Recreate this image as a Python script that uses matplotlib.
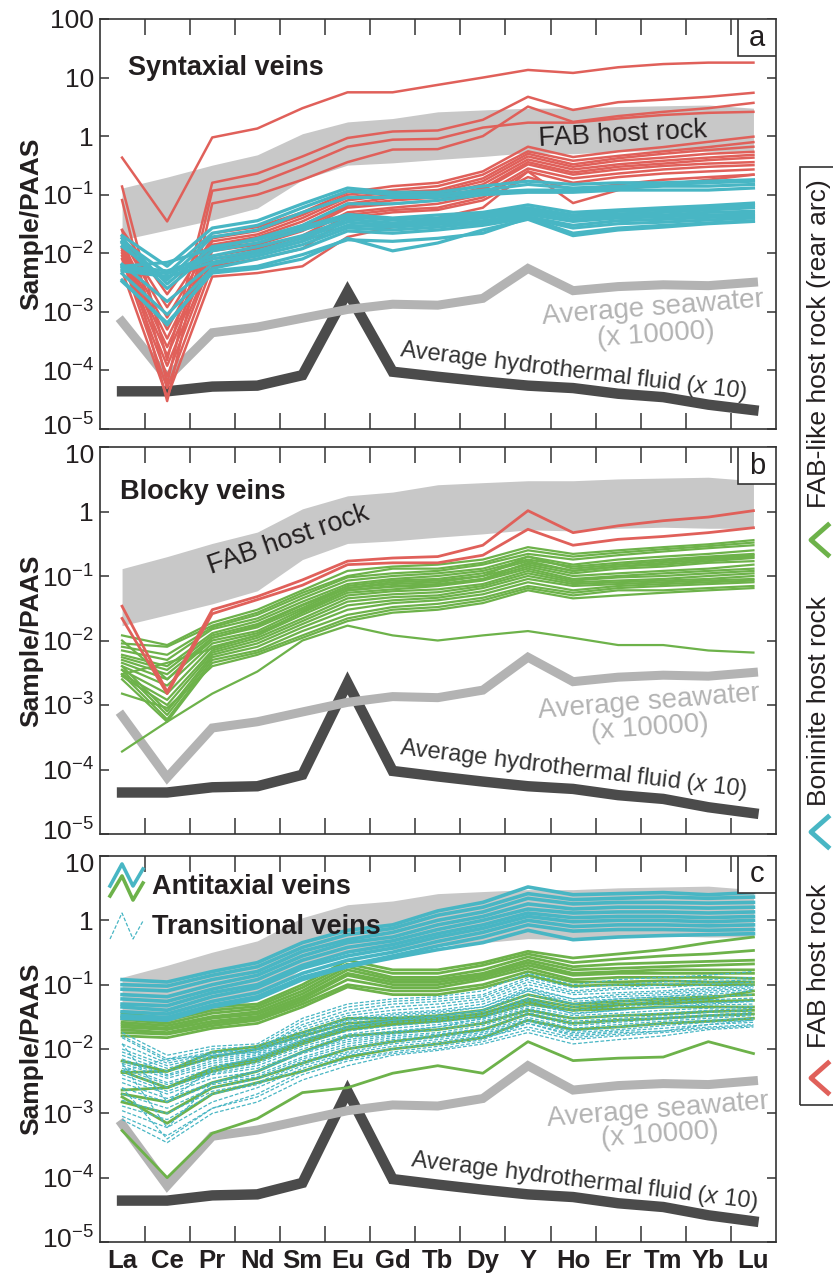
import numpy as np
import matplotlib
matplotlib.use("Agg")
import matplotlib.pyplot as plt
from matplotlib.ticker import FixedLocator, FuncFormatter
from matplotlib.lines import Line2D
from matplotlib.patches import Rectangle
from matplotlib.transforms import ScaledTranslation

plt.rcParams['font.family'] = ['Liberation Sans', 'DejaVu Sans']
plt.rcParams['mathtext.fontset'] = 'custom'
plt.rcParams['mathtext.rm'] = 'Liberation Sans'
plt.rcParams['mathtext.it'] = 'Liberation Sans:italic'
plt.rcParams['mathtext.bf'] = 'Liberation Sans:bold'

RED = "#e0605a"
CYAN = "#48b6c4"
GREEN = "#6db24a"
BAND = "#c8c8c8"
SEA = "#b3b3b3"
HYDRO = "#4b4b4b"
DARK = "#231f20"

elements = ["La", "Ce", "Pr", "Nd", "Sm", "Eu", "Gd", "Tb", "Dy", "Y", "Ho", "Er", "Tm", "Yb", "Lu"]

# FAB host rock range (grey band)
fab_upper = [0.13, 0.2, 0.32, 0.48, 1.1, 1.75, 2.0, 2.6, 2.8, 3.0, 3.0, 3.2, 3.3, 3.4, 3.0]
fab_lower = [0.017, 0.025, 0.037, 0.059, 0.18, 0.32, 0.35, 0.4, 0.45, 0.52, 0.5, 0.55, 0.57, 0.55, 0.55]

seawater = [6.8e-4, 7.5e-5, 4.4e-4, 5.5e-4, 7.8e-4, 1.1e-3, 1.35e-3, 1.3e-3, 1.7e-3, 5.5e-3,
            2.3e-3, 2.7e-3, 2.9e-3, 2.8e-3, 3.2e-3]
hydrothermal = [4.4e-5, 4.4e-5, 5.3e-5, 5.5e-5, 8.3e-5, 2.2e-3, 9.5e-5, 7.8e-5, 6.5e-5, 5.5e-5,
                5.0e-5, 4.0e-5, 3.5e-5, 2.6e-5, 2.1e-5]

# (a) syntaxial veins
syn_fab = [
    [0.43, 0.035, 0.95, 1.35, 3.0, 5.6, 5.6, 7.5, 10, 13.5, 12, 15, 17, 18, 18],
    [0.138, 1.5e-4, 0.16, 0.23, 0.45, 0.93, 1.2, 1.25, 1.9, 4.7, 2.8, 3.8, 4.2, 4.7, 5.5],
    [0.081, 6e-5, 0.117, 0.155, 0.31, 0.66, 0.87, 0.9, 1.4, 1.7, 1.7, 2.0, 2.3, 2.5, 2.6],
    [0.025, 3e-5, 0.071, 0.1, 0.18, 0.36, 0.59, 0.6, 1.0, 3.2, 1.75, 2.2, 2.6, 3.0, 3.7],
    [0.025, 2e-3, 0.022, 0.028, 0.05, 0.11, 0.14, 0.16, 0.25, 0.66, 0.44, 0.55, 0.65, 0.8, 0.98],
    [0.02, 1.2e-3, 0.018, 0.024, 0.045, 0.10, 0.12, 0.14, 0.22, 0.55, 0.38, 0.46, 0.55, 0.65, 0.79],
    [0.018, 8e-4, 0.016, 0.021, 0.04, 0.09, 0.11, 0.12, 0.19, 0.5, 0.33, 0.42, 0.5, 0.58, 0.66],
    [0.015, 5e-4, 0.014, 0.019, 0.035, 0.08, 0.1, 0.11, 0.17, 0.45, 0.3, 0.38, 0.43, 0.5, 0.54],
    [0.013, 3.5e-4, 0.013, 0.017, 0.03, 0.07, 0.09, 0.1, 0.15, 0.4, 0.27, 0.33, 0.38, 0.43, 0.48],
    [0.012, 2.5e-4, 0.012, 0.015, 0.027, 0.065, 0.08, 0.09, 0.13, 0.36, 0.24, 0.3, 0.34, 0.39, 0.43],
    [0.011, 1.8e-4, 0.011, 0.014, 0.024, 0.06, 0.07, 0.08, 0.12, 0.33, 0.22, 0.27, 0.31, 0.34, 0.36],
    [0.01, 1.2e-4, 0.009, 0.012, 0.02, 0.05, 0.06, 0.07, 0.1, 0.28, 0.19, 0.23, 0.27, 0.3, 0.32],
    [0.009, 8e-5, 0.008, 0.01, 0.016, 0.045, 0.055, 0.06, 0.09, 0.25, 0.16, 0.2, 0.23, 0.25, 0.27],
    [0.008, 5e-5, 0.006, 0.008, 0.012, 0.04, 0.05, 0.055, 0.08, 0.2, 0.12, 0.15, 0.18, 0.2, 0.22],
    [0.005, 3.5e-5, 0.004, 0.0046, 0.006, 0.019, 0.028, 0.04, 0.06, 0.25, 0.072, 0.12, 0.15, 0.18, 0.22],
]
syn_bon = [
    [0.02, 0.006, 0.027, 0.036, 0.07, 0.13, 0.11, 0.11, 0.14, 0.17, 0.15, 0.16, 0.16, 0.17, 0.18],
    [0.016, 0.0045, 0.022, 0.03, 0.06, 0.115, 0.1, 0.1, 0.12, 0.15, 0.13, 0.14, 0.15, 0.16, 0.17],
    [0.013, 0.0035, 0.019, 0.025, 0.05, 0.09, 0.09, 0.09, 0.11, 0.12, 0.12, 0.13, 0.14, 0.14, 0.15],
    [0.006, 0.007, 0.012, 0.018, 0.03, 0.07, 0.07, 0.08, 0.1, 0.11, 0.11, 0.12, 0.12, 0.12, 0.13],
    [0.018, 0.003, 0.013, 0.017, 0.028, 0.046, 0.04, 0.045, 0.05, 0.067, 0.05, 0.055, 0.06, 0.065, 0.072],
    [0.015, 0.0025, 0.011, 0.015, 0.025, 0.042, 0.037, 0.04, 0.047, 0.06, 0.045, 0.052, 0.055, 0.06, 0.066],
    [0.006, 0.005, 0.009, 0.013, 0.02, 0.038, 0.033, 0.037, 0.043, 0.055, 0.042, 0.047, 0.05, 0.055, 0.06],
    [0.0055, 0.0045, 0.008, 0.011, 0.018, 0.034, 0.03, 0.034, 0.04, 0.05, 0.038, 0.043, 0.045, 0.05, 0.052],
    [0.005, 0.004, 0.007, 0.01, 0.016, 0.03, 0.028, 0.031, 0.036, 0.046, 0.035, 0.04, 0.042, 0.045, 0.047],
    [0.0065, 0.0015, 0.0065, 0.009, 0.014, 0.027, 0.025, 0.028, 0.033, 0.042, 0.03, 0.036, 0.038, 0.041, 0.043],
    [0.0045, 0.0009, 0.0055, 0.008, 0.012, 0.024, 0.022, 0.025, 0.03, 0.04, 0.027, 0.032, 0.034, 0.037, 0.04],
    [0.0033, 0.00065, 0.0046, 0.0055, 0.008, 0.018, 0.011, 0.015, 0.025, 0.038, 0.02, 0.025, 0.028, 0.032, 0.035],
    [0.0035, 0.0006, 0.005, 0.006, 0.0095, 0.017, 0.016, 0.018, 0.022, 0.04, 0.022, 0.027, 0.03, 0.033, 0.036],
]

# (b) blocky veins
blk_fab = [
    [0.034, 0.0016, 0.03, 0.048, 0.087, 0.17, 0.19, 0.2, 0.3, 1.03, 0.47, 0.6, 0.72, 0.82, 1.03],
    [0.022, 0.0015, 0.026, 0.043, 0.072, 0.15, 0.16, 0.16, 0.21, 0.53, 0.3, 0.37, 0.41, 0.47, 0.56],
]
blk_fablike = [
    [0.012, 0.0085, 0.019, 0.03, 0.06, 0.12, 0.14, 0.15, 0.18, 0.28, 0.22, 0.25, 0.28, 0.31, 0.36],
    [0.009, 0.008, 0.017, 0.027, 0.055, 0.1, 0.13, 0.13, 0.16, 0.25, 0.2, 0.23, 0.26, 0.29, 0.33],
    [0.008, 0.006, 0.016, 0.025, 0.05, 0.095, 0.11, 0.12, 0.15, 0.22, 0.18, 0.21, 0.24, 0.27, 0.3],
    [0.007, 0.005, 0.015, 0.022, 0.045, 0.085, 0.1, 0.11, 0.13, 0.2, 0.15, 0.18, 0.2, 0.22, 0.25],
    [0.006, 0.004, 0.013, 0.02, 0.04, 0.075, 0.09, 0.1, 0.12, 0.18, 0.14, 0.16, 0.18, 0.2, 0.22],
    [0.0055, 0.0035, 0.012, 0.018, 0.036, 0.07, 0.085, 0.09, 0.11, 0.17, 0.12, 0.14, 0.16, 0.18, 0.2],
    [0.005, 0.003, 0.011, 0.016, 0.032, 0.065, 0.075, 0.08, 0.1, 0.15, 0.11, 0.13, 0.14, 0.16, 0.17],
    [0.0045, 0.0025, 0.01, 0.014, 0.03, 0.06, 0.07, 0.075, 0.09, 0.14, 0.1, 0.11, 0.12, 0.13, 0.15],
    [0.004, 0.002, 0.009, 0.013, 0.027, 0.055, 0.062, 0.07, 0.085, 0.13, 0.09, 0.1, 0.11, 0.12, 0.13],
    [0.0035, 0.0015, 0.008, 0.012, 0.025, 0.05, 0.058, 0.062, 0.075, 0.12, 0.085, 0.095, 0.1, 0.11, 0.12],
    [0.003, 0.0012, 0.007, 0.011, 0.022, 0.045, 0.052, 0.056, 0.07, 0.11, 0.08, 0.085, 0.09, 0.1, 0.11],
    [0.0028, 0.001, 0.0065, 0.01, 0.02, 0.04, 0.047, 0.05, 0.065, 0.1, 0.075, 0.08, 0.085, 0.09, 0.1],
    [0.004, 0.0008, 0.006, 0.009, 0.018, 0.035, 0.042, 0.046, 0.058, 0.09, 0.07, 0.075, 0.08, 0.085, 0.09],
    [0.0035, 0.0007, 0.0055, 0.008, 0.016, 0.03, 0.038, 0.042, 0.052, 0.08, 0.06, 0.07, 0.075, 0.08, 0.085],
    [0.003, 0.0006, 0.005, 0.007, 0.014, 0.025, 0.033, 0.037, 0.046, 0.07, 0.055, 0.065, 0.07, 0.075, 0.08],
    [0.0025, 0.00055, 0.0045, 0.0065, 0.012, 0.022, 0.03, 0.033, 0.042, 0.065, 0.05, 0.06, 0.06, 0.065, 0.07],
    [0.0015, 0.0009, 0.004, 0.006, 0.011, 0.02, 0.027, 0.03, 0.038, 0.06, 0.045, 0.05, 0.055, 0.06, 0.065],
    [1.9e-4, 5.5e-4, 0.0015, 0.0033, 0.01, 0.017, 0.012, 0.01, 0.012, 0.014, 0.011, 0.0085, 0.0085, 0.007, 0.0065],
    [0.003, 0.0045, 0.0075, 0.012, 0.028, 0.06, 0.068, 0.072, 0.09, 0.16, 0.12, 0.14, 0.15, 0.17, 0.19],
    [0.01, 0.0025, 0.011, 0.017, 0.035, 0.065, 0.08, 0.085, 0.1, 0.2, 0.13, 0.15, 0.17, 0.19, 0.21],
]

# (c) antitaxial and transitional veins
anti_bon = [
    [0.12, 0.11, 0.16, 0.22, 0.45, 0.7, 0.85, 1.4, 1.9, 3.3, 2.5, 2.6, 2.7, 2.5, 2.7],
    [0.1, 0.095, 0.14, 0.19, 0.38, 0.6, 0.75, 1.2, 1.6, 2.6, 2.1, 2.2, 2.3, 2.2, 2.3],
    [0.085, 0.08, 0.12, 0.16, 0.33, 0.5, 0.65, 1.0, 1.35, 2.2, 1.8, 1.9, 1.9, 1.85, 1.9],
    [0.07, 0.065, 0.1, 0.14, 0.28, 0.45, 0.55, 0.85, 1.15, 1.8, 1.5, 1.6, 1.6, 1.55, 1.6],
    [0.06, 0.055, 0.085, 0.12, 0.24, 0.38, 0.48, 0.72, 1.0, 1.5, 1.3, 1.35, 1.35, 1.3, 1.35],
    [0.05, 0.047, 0.075, 0.1, 0.2, 0.32, 0.42, 0.62, 0.85, 1.3, 1.1, 1.15, 1.15, 1.1, 1.15],
    [0.045, 0.04, 0.065, 0.09, 0.18, 0.28, 0.37, 0.55, 0.75, 1.15, 0.95, 1.0, 1.0, 0.95, 1.0],
    [0.038, 0.035, 0.055, 0.075, 0.15, 0.24, 0.32, 0.47, 0.65, 1.0, 0.8, 0.85, 0.85, 0.82, 0.85],
    [0.033, 0.031, 0.048, 0.065, 0.13, 0.2, 0.28, 0.4, 0.55, 0.85, 0.68, 0.72, 0.72, 0.7, 0.72],
    [0.03, 0.028, 0.045, 0.06, 0.12, 0.19, 0.26, 0.35, 0.45, 0.7, 0.5, 0.55, 0.58, 0.6, 0.62],
]
anti_fablike = [
    [0.036, 0.03, 0.045, 0.05, 0.1, 0.24, 0.17, 0.17, 0.22, 0.33, 0.26, 0.3, 0.35, 0.45, 0.55],
    [0.032, 0.028, 0.04, 0.046, 0.09, 0.21, 0.15, 0.15, 0.2, 0.3, 0.22, 0.25, 0.28, 0.3, 0.34],
    [0.029, 0.025, 0.036, 0.042, 0.08, 0.19, 0.13, 0.13, 0.17, 0.27, 0.19, 0.21, 0.22, 0.23, 0.24],
    [0.026, 0.023, 0.032, 0.038, 0.072, 0.17, 0.12, 0.12, 0.15, 0.24, 0.17, 0.18, 0.19, 0.2, 0.21],
    [0.024, 0.021, 0.03, 0.035, 0.065, 0.15, 0.11, 0.11, 0.14, 0.22, 0.15, 0.16, 0.17, 0.17, 0.17],
    [0.022, 0.02, 0.027, 0.032, 0.06, 0.14, 0.1, 0.1, 0.13, 0.2, 0.14, 0.15, 0.15, 0.15, 0.15],
    [0.02, 0.018, 0.025, 0.03, 0.055, 0.12, 0.09, 0.09, 0.12, 0.18, 0.12, 0.13, 0.13, 0.13, 0.125],
    [0.018, 0.017, 0.023, 0.028, 0.05, 0.1, 0.08, 0.08, 0.1, 0.16, 0.11, 0.11, 0.115, 0.11, 0.11],
    [0.016, 0.015, 0.021, 0.025, 0.045, 0.092, 0.07, 0.07, 0.09, 0.14, 0.095, 0.1, 0.1, 0.1, 0.1],
    [0.0065, 0.0045, 0.009, 0.011, 0.018, 0.03, 0.03, 0.033, 0.04, 0.07, 0.05, 0.055, 0.06, 0.065, 0.07],
    [0.0043, 0.0045, 0.0075, 0.01, 0.016, 0.025, 0.028, 0.03, 0.035, 0.06, 0.045, 0.05, 0.05, 0.055, 0.057],
    [0.0023, 0.0025, 0.0045, 0.0065, 0.012, 0.02, 0.024, 0.027, 0.032, 0.05, 0.04, 0.042, 0.045, 0.045, 0.045],
    [0.002, 0.0015, 0.003, 0.0045, 0.009, 0.016, 0.018, 0.02, 0.025, 0.04, 0.03, 0.033, 0.035, 0.038, 0.04],
    [0.0015, 0.001, 0.0025, 0.0035, 0.006, 0.01, 0.013, 0.016, 0.02, 0.035, 0.025, 0.028, 0.03, 0.033, 0.035],
    [0.0018, 0.0007, 0.002, 0.003, 0.0045, 0.0075, 0.01, 0.012, 0.015, 0.028, 0.02, 0.022, 0.025, 0.027, 0.03],
    [5.4e-4, 1e-4, 4.9e-4, 8.3e-4, 0.0021, 0.0025, 0.0042, 0.0055, 0.0042, 0.013, 0.0066, 0.0072, 0.0075, 0.013, 0.0085],
    [0.0045, 0.0025, 0.005, 0.007, 0.013, 0.022, 0.026, 0.029, 0.036, 0.055, 0.04, 0.048, 0.055, 0.06, 0.08],
]
transitional = [
    [0.018, 0.008, 0.011, 0.012, 0.03, 0.05, 0.06, 0.065, 0.08, 0.15, 0.1, 0.12, 0.13, 0.14, 0.16],
    [0.016, 0.007, 0.01, 0.011, 0.027, 0.045, 0.055, 0.06, 0.07, 0.13, 0.09, 0.1, 0.11, 0.12, 0.13],
    [0.015, 0.0065, 0.009, 0.01, 0.024, 0.04, 0.05, 0.055, 0.065, 0.12, 0.08, 0.09, 0.1, 0.11, 0.12],
    [0.012, 0.006, 0.0085, 0.01, 0.022, 0.036, 0.045, 0.05, 0.06, 0.11, 0.075, 0.085, 0.09, 0.1, 0.11],
    [0.01, 0.0055, 0.008, 0.0095, 0.02, 0.033, 0.04, 0.045, 0.055, 0.1, 0.07, 0.075, 0.08, 0.09, 0.1],
    [0.009, 0.005, 0.0075, 0.009, 0.018, 0.03, 0.036, 0.04, 0.05, 0.09, 0.06, 0.065, 0.07, 0.08, 0.09],
    [0.008, 0.0045, 0.007, 0.0085, 0.016, 0.027, 0.032, 0.036, 0.045, 0.08, 0.055, 0.06, 0.065, 0.07, 0.08],
    [0.007, 0.004, 0.0065, 0.008, 0.015, 0.025, 0.03, 0.033, 0.04, 0.07, 0.05, 0.055, 0.06, 0.065, 0.07],
    [0.0065, 0.0038, 0.006, 0.0075, 0.014, 0.023, 0.028, 0.03, 0.037, 0.062, 0.045, 0.05, 0.055, 0.058, 0.062],
    [0.006, 0.0035, 0.0055, 0.007, 0.013, 0.021, 0.026, 0.028, 0.034, 0.056, 0.04, 0.045, 0.05, 0.052, 0.056],
    [0.0055, 0.003, 0.005, 0.0065, 0.012, 0.019, 0.023, 0.026, 0.031, 0.05, 0.036, 0.04, 0.045, 0.048, 0.05],
    [0.005, 0.0028, 0.0045, 0.006, 0.011, 0.017, 0.021, 0.024, 0.029, 0.046, 0.033, 0.036, 0.04, 0.043, 0.046],
    [0.0045, 0.0025, 0.0042, 0.0055, 0.01, 0.016, 0.019, 0.022, 0.027, 0.043, 0.03, 0.033, 0.036, 0.04, 0.043],
    [0.004, 0.0022, 0.004, 0.005, 0.009, 0.014, 0.017, 0.02, 0.025, 0.04, 0.027, 0.03, 0.033, 0.037, 0.04],
    [0.0035, 0.002, 0.0035, 0.0045, 0.0085, 0.013, 0.016, 0.018, 0.023, 0.037, 0.025, 0.028, 0.031, 0.034, 0.037],
    [0.003, 0.0017, 0.003, 0.004, 0.0075, 0.012, 0.015, 0.017, 0.021, 0.034, 0.023, 0.026, 0.029, 0.032, 0.035],
    [0.0025, 0.0015, 0.0028, 0.0037, 0.007, 0.011, 0.014, 0.016, 0.019, 0.031, 0.021, 0.024, 0.027, 0.03, 0.033],
    [0.002, 0.0012, 0.0025, 0.0034, 0.0065, 0.01, 0.013, 0.015, 0.018, 0.029, 0.019, 0.022, 0.025, 0.028, 0.03],
    [0.0016, 0.001, 0.0022, 0.003, 0.006, 0.009, 0.012, 0.014, 0.017, 0.027, 0.018, 0.02, 0.023, 0.026, 0.028],
    [0.0013, 0.0008, 0.002, 0.0028, 0.0055, 0.0085, 0.011, 0.013, 0.016, 0.025, 0.017, 0.019, 0.021, 0.024, 0.026],
    [0.0011, 0.0006, 0.0015, 0.0025, 0.005, 0.008, 0.01, 0.012, 0.015, 0.022, 0.015, 0.017, 0.019, 0.022, 0.024],
    [0.0009, 0.00045, 0.0012, 0.0018, 0.004, 0.0065, 0.0085, 0.01, 0.013, 0.02, 0.014, 0.016, 0.018, 0.021, 0.023],
    [0.0008, 0.00035, 0.001, 0.0015, 0.0033, 0.0055, 0.008, 0.0095, 0.012, 0.018, 0.012, 0.014, 0.016, 0.02, 0.022],
    [0.0025, 0.0004, 0.0012, 0.002, 0.0045, 0.007, 0.009, 0.011, 0.014, 0.025, 0.016, 0.018, 0.019, 0.024, 0.028],
    [0.006, 0.0006, 0.003, 0.0045, 0.009, 0.015, 0.018, 0.022, 0.03, 0.06, 0.035, 0.04, 0.045, 0.05, 0.055],
    [0.012, 0.0015, 0.005, 0.0075, 0.014, 0.022, 0.028, 0.032, 0.04, 0.08, 0.05, 0.06, 0.065, 0.075, 0.085],
    [0.0045, 0.007, 0.008, 0.009, 0.017, 0.028, 0.034, 0.038, 0.045, 0.085, 0.06, 0.07, 0.075, 0.085, 0.095],
]

W, H = 833, 1274
x = np.arange(len(elements))


def fmt_log(v, pos):
    if v >= 1:
        return "%d" % round(v)
    return r"$10^{%d}$" % round(np.log10(v))


def base_panel(ax, ytop, letter, show_x):
    ax.fill_between(x, fab_lower, fab_upper, color=BAND, lw=0, zorder=1)
    ax.plot(x, hydrothermal, color=HYDRO, lw=7.5, solid_joinstyle='miter', zorder=2)
    ax.plot(x, seawater, color=SEA, lw=6.5, solid_joinstyle='miter', zorder=3)
    ax.set_yscale('log')
    ax.set_ylim(1e-5, ytop)
    ax.set_xlim(-0.5, 14.5)
    ax.yaxis.set_major_locator(FixedLocator([10.0 ** k for k in range(-5, int(round(np.log10(ytop))) + 1)]))
    ax.yaxis.set_minor_locator(FixedLocator([]))
    ax.yaxis.set_major_formatter(FuncFormatter(fmt_log))
    ax.tick_params(axis='y', which='major', direction='in', length=6.5, width=1.1,
                   right=True, labelsize=19, pad=4, colors='#333333', labelcolor=DARK)
    ax.set_xticks(x)
    ax.set_xticklabels(elements if show_x else [], fontsize=18.5, fontweight='bold', color=DARK)
    ax.set_xticks(x[:-1] + 0.5, minor=True)
    ax.tick_params(axis='x', which='major', length=0, pad=5)
    ax.tick_params(axis='x', which='minor', direction='in', length=11.5, width=1.1,
                   top=True, bottom=True, colors='#333333')
    for s in ax.spines.values():
        s.set_color('#333333')
        s.set_linewidth(1.2)
    bh = 37.0 / (ax.get_position().height * H)
    ax.add_patch(Rectangle((0.944, 1 - bh), 0.056, bh, transform=ax.transAxes,
                           facecolor='white', edgecolor='#333333', lw=1.2, zorder=20))
    ax.text(0.972, 1 - bh / 2, letter, transform=ax.transAxes, ha='center', va='center',
            fontsize=21, color=DARK, zorder=21)


def labels_common(ax, sea_xy, sea2_xy, hyd_xy):
    ax.text(*sea_xy, "Average seawater", transform=ax.transAxes, ha='center', va='center',
            rotation=4.5, rotation_mode='anchor', fontsize=20, color=SEA, zorder=15)
    ax.text(*sea2_xy, "(x 10000)", transform=ax.transAxes, ha='center', va='center',
            rotation=4, rotation_mode='anchor', fontsize=20, color=SEA, zorder=15)
    ax.text(*hyd_xy, r"Average hydrothermal fluid $\mathit{(x\ 10)}$", transform=ax.transAxes,
            ha='center', va='center', rotation=-7, rotation_mode='anchor', fontsize=17,
            color='#333333', zorder=15)


fig = plt.figure(figsize=(W / 100, H / 100), dpi=100)
left, width = 99.5 / W, 676.5 / W
ax_a = fig.add_axes([left, 1 - 429 / H, width, 410 / H])
ax_b = fig.add_axes([left, 1 - 834 / H, width, 387 / H])
ax_c = fig.add_axes([left, 1 - 1242 / H, width, 386 / H])

# panel a
base_panel(ax_a, 100, "a", False)
for v in syn_fab:
    ax_a.plot(x, v, color=RED, lw=1.8, zorder=5)
for v in syn_bon:
    ax_a.plot(x, v, color=CYAN, lw=2.3, zorder=6)
ax_a.text(0.042, 0.88, "Syntaxial veins", transform=ax_a.transAxes, fontsize=19.5,
          fontweight='bold', color=DARK, va='center')
ax_a.text(0.774, 0.717, "FAB host rock", transform=ax_a.transAxes, fontsize=19.5, color=DARK,
          ha='center', va='center', rotation=3, rotation_mode='anchor', zorder=15)
labels_common(ax_a, (0.818, 0.295), (0.822, 0.229), (0.701, 0.141))

# panel b
base_panel(ax_b, 10, "b", False)
for v in blk_fablike:
    ax_b.plot(x, v, color=GREEN, lw=1.6, zorder=5)
for v in blk_fab:
    ax_b.plot(x, v, color=RED, lw=2.0, zorder=6)
ax_b.text(0.03, 0.884, "Blocky veins", transform=ax_b.transAxes, fontsize=19.5,
          fontweight='bold', color=DARK, va='center')
ax_b.text(0.279, 0.76, "FAB host rock", transform=ax_b.transAxes, fontsize=19.5, color=DARK,
          ha='center', va='center', rotation=19, rotation_mode='anchor', zorder=15)
labels_common(ax_b, (0.812, 0.341), (0.814, 0.274), (0.701, 0.168))

# panel c
base_panel(ax_c, 10, "c", True)
for v in anti_fablike:
    ax_c.plot(x, v, color=GREEN, lw=2.0, zorder=5)
for v in transitional:
    ax_c.plot(x, v, color=CYAN, lw=0.9, ls=(0, (3, 1.5)), zorder=6)
for v in anti_bon:
    ax_c.plot(x, v, color=CYAN, lw=2.6, zorder=7)
labels_common(ax_c, (0.826, 0.342), (0.829, 0.277), (0.716, 0.158))


# panel c legend
def zig(ax, xs_px, ys_px, **kw):
    pos = ax.get_position()
    xs = [(px / W - pos.x0) / pos.width for px in xs_px]
    ys = [((1 - py / H) - pos.y0) / pos.height for py in ys_px]
    ax.add_line(Line2D(xs, ys, transform=ax.transAxes, clip_on=False, zorder=16, **kw))


zig(ax_c, [110, 122, 133, 143], [886, 864, 886, 869], color=CYAN, lw=2.6)
zig(ax_c, [110, 122, 133, 143], [896, 876, 900, 883], color=GREEN, lw=2.6)
zig(ax_c, [110, 122, 133, 143], [939, 913, 939, 921], color=CYAN, lw=0.9, ls=(0, (3, 1.5)))
ax_c.text((152 - 99.5) / 676.5, 1 - (887 - 856) / 386, "Antitaxial veins", transform=ax_c.transAxes,
          fontsize=19.5, fontweight='bold', color=DARK, va='center', zorder=16)
ax_c.text((152 - 99.5) / 676.5, 1 - (927 - 856) / 386, "Transitional veins", transform=ax_c.transAxes,
          fontsize=19.5, fontweight='bold', color=DARK, va='center', zorder=16)

# y labels
for ax in (ax_a, ax_b, ax_c):
    p = ax.get_position()
    fig.text(31 / W, p.y0 + p.height / 2, "Sample/PAAS", rotation=90, ha='center', va='center',
             fontsize=19, fontweight='bold', color=DARK)

# nudge the end labels so stacked panels do not collide
for ax in (ax_b, ax_c):
    lbl = ax.yaxis.get_major_ticks()[-1].label1
    lbl.set_transform(lbl.get_transform() + ScaledTranslation(0, -5 / 72, fig.dpi_scale_trans))
for ax in (ax_a, ax_b, ax_c):
    lbl = ax.yaxis.get_major_ticks()[0].label1
    lbl.set_transform(lbl.get_transform() + ScaledTranslation(0, 3 / 72, fig.dpi_scale_trans))

# right-hand legend
fig.add_artist(Rectangle((800 / W, 1 - 1105 / H), 0.1, (1105 - 167) / H, transform=fig.transFigure,
                         facecolor='none', edgecolor='#333333', lw=1.2))
legend_items = [("FAB-like host rock (rear arc)", 344, GREEN, 540),
                ("Boninite host rock", 701, CYAN, 832),
                ("FAB host rock", 966, RED, 1078)]
for label, ty, col, cy in legend_items:
    fig.text(819 / W, 1 - ty / H, label, rotation=90, ha='center', va='center',
             fontsize=19, color=DARK)
    fig.add_artist(Line2D([828 / W, 811 / W, 828 / W], [1 - (cy - 15) / H, 1 - cy / H, 1 - (cy + 15) / H],
                          transform=fig.transFigure, color=col, lw=3.5))

fig.savefig("out.png", dpi=100)
